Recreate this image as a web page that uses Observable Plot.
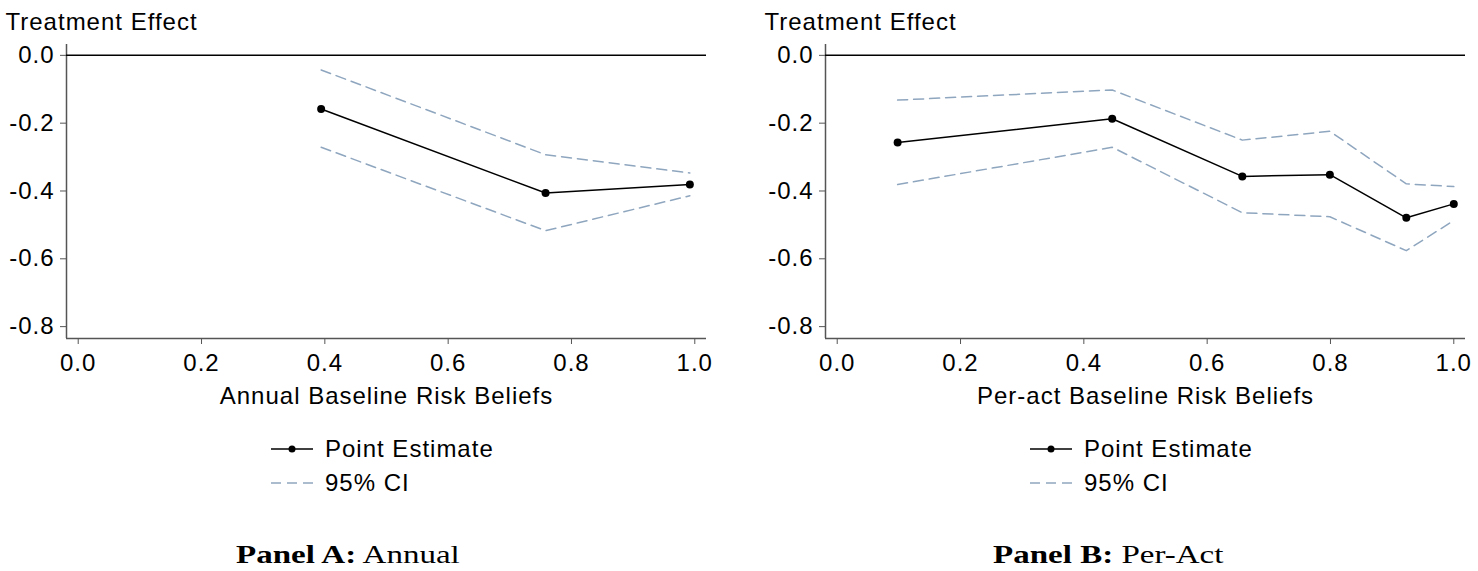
<!DOCTYPE html>
<html>
<head>
<meta charset="utf-8">
<script src="https://cdn.jsdelivr.net/npm/d3@7"></script>
<script src="https://cdn.jsdelivr.net/npm/@observablehq/plot@0.6"></script>
<style>
  body { margin: 0; background: #fff; font-family: "Liberation Sans", Arial, sans-serif; }
  #page { position: relative; width: 1478px; height: 571px; overflow: hidden; }
  .panel { position: absolute; top: 0; height: 571px; }
  .legend { position: absolute; left: 271px; top: 432px; font-size: 24px; letter-spacing: 1px; color: #000; }
  .legend .row { display: flex; align-items: center; height: 34px; }
  .legend svg { margin-right: 12px; }
  .plabel { position: absolute; top: 540px; font-family: "Liberation Serif", "DejaVu Serif", serif; font-size: 26px; color: #000; white-space: nowrap; transform: scaleX(1.27); transform-origin: left center; }
</style>
</head>
<body>
<div id="page">
  <div class="panel" id="panelA" style="left:0px;width:759px"></div>
  <div class="panel" id="panelB" style="left:759px;width:719px"></div>
</div>
<script>
// ---------- data ----------
const annualX     = [0.394, 0.758, 0.992];
const annualEst   = [-0.158, -0.406, -0.381];
const annualUpper = [-0.043, -0.293, -0.347];
const annualLower = [-0.271, -0.517, -0.414];

const peractX     = [0.098, 0.446, 0.657, 0.799, 0.923, 1.0];
const peractEst   = [-0.257, -0.187, -0.357, -0.352, -0.479, -0.438];
const peractUpper = [-0.132, -0.102, -0.250, -0.224, -0.379, -0.387];
const peractLower = [-0.381, -0.271, -0.464, -0.476, -0.576, -0.487];

const xTicks = [0, 0.2, 0.4, 0.6, 0.8, 1.0];
const yTicks = [-0.8, -0.6, -0.4, -0.2, 0];
const xDomain = [-0.019, 1.019];
const yDomain = [-0.835, 0.032];

const panels = [
  {id: "panelA", width: 759, xLabel: "Annual Baseline Risk Beliefs", panelTitle: ["Panel A:", " Annual"], labelLeft: 236,
   x: annualX, est: annualEst, upper: annualUpper, lower: annualLower},
  {id: "panelB", width: 719, xLabel: "Per-act Baseline Risk Beliefs", panelTitle: ["Panel B:", " Per-Act"], labelLeft: 234,
   x: peractX, est: peractEst, upper: peractUpper, lower: peractLower}
];

const ciColor = "#8fa6bf";
const axisColor = "#555";
const FONT = "Liberation Sans, Arial, sans-serif";

for (const p of panels) {
  const est = p.x.map((x, i) => ({x, y: p.est[i]}));
  const up = p.x.map((x, i) => ({x, y: p.upper[i]}));
  const lo = p.x.map((x, i) => ({x, y: p.lower[i]}));
  const chart = Plot.plot({
    width: p.width,
    height: 410,
    marginLeft: 66,
    marginRight: p.width - 66 - 640,
    marginTop: 44,
    marginBottom: 72,
    style: {fontFamily: FONT, fontSize: "24px", letterSpacing: "1px", color: "#000", background: "#fff"},
    x: {domain: xDomain},
    y: {domain: yDomain},
    marks: [
      Plot.ruleX([xDomain[0]], {stroke: axisColor, strokeWidth: 1.5}),
      Plot.ruleY([yDomain[0]], {stroke: axisColor, strokeWidth: 1.5}),
      Plot.axisX({ticks: xTicks, tickSize: 6, tickPadding: 9, stroke: axisColor, tickFormat: d => d.toFixed(1), label: null, fontSize: 24, fill: "#000"}),
      Plot.axisY({ticks: yTicks, tickSize: 6, tickPadding: 6, stroke: axisColor, tickFormat: d => d.toFixed(1), label: null, fontSize: 24, fill: "#000"}),
      Plot.ruleY([0], {stroke: "#000", strokeWidth: 1.5}),
      Plot.line(up, {x: "x", y: "y", stroke: ciColor, strokeWidth: 1.5, strokeDasharray: "10,6"}),
      Plot.line(lo, {x: "x", y: "y", stroke: ciColor, strokeWidth: 1.5, strokeDasharray: "10,6"}),
      Plot.line(est, {x: "x", y: "y", stroke: "#000", strokeWidth: 1.5}),
      Plot.dot(est, {x: "x", y: "y", r: 4, fill: "#000", stroke: "none"}),
      Plot.text(["Treatment Effect"], {frameAnchor: "top-left", dx: -61, dy: -22, textAnchor: "start", lineAnchor: "middle", fontSize: 24, fill: "#000"}),
      Plot.text([p.xLabel], {frameAnchor: "bottom", dy: 58, lineAnchor: "middle", fontSize: 24, fill: "#000"})
    ]
  });
  const host = document.getElementById(p.id);
  host.appendChild(chart);

  const legend = document.createElement("div");
  legend.className = "legend";
  legend.innerHTML = `
    <div class="row"><svg width="42" height="10"><line x1="0" y1="5" x2="42" y2="5" stroke="#000" stroke-width="1.5"/><circle cx="21" cy="5" r="3.5" fill="#000"/></svg><span>Point Estimate</span></div>
    <div class="row"><svg width="42" height="10"><line x1="0" y1="5" x2="42" y2="5" stroke="${ciColor}" stroke-width="1.5" stroke-dasharray="10,6"/></svg><span>95% CI</span></div>`;
  host.appendChild(legend);

  const lab = document.createElement("div");
  lab.className = "plabel";
  lab.style.left = p.labelLeft + "px";
  lab.innerHTML = `<b>${p.panelTitle[0]}</b>${p.panelTitle[1]}`;
  host.appendChild(lab);
}
</script>
</body>
</html>
